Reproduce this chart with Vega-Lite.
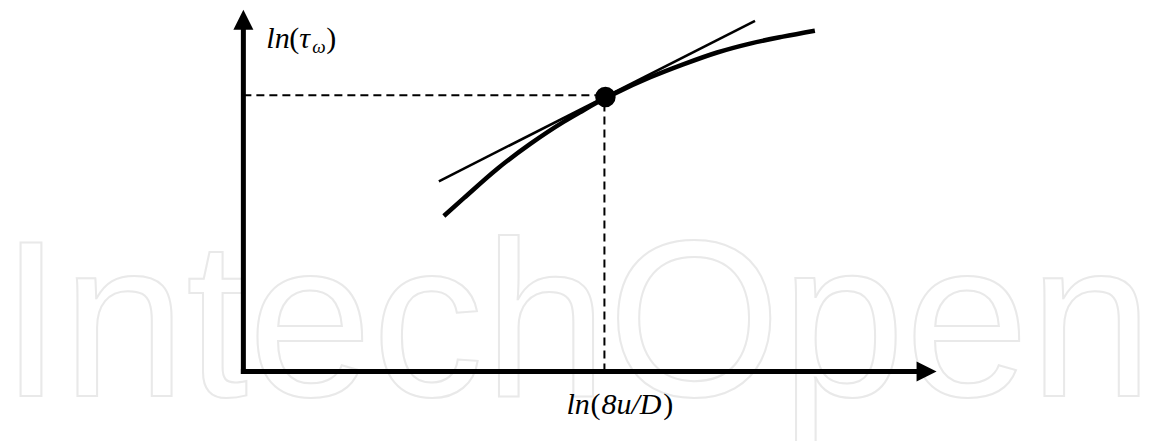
{
  "$schema": "https://vega.github.io/schema/vega-lite/v6.json",
  "width": 1151,
  "height": 441,
  "padding": 0,
  "autosize": {"type": "fit", "contains": "padding"},
  "background": "white",
  "config": {"view": {"stroke": null}},
  "datasets": {
    "watermark": [{"x": -244, "y": -25, "label": "IntechOpen"}],
    "axes": [
      {"x": -2.5, "y": 0, "x2": 676, "y2": 0},
      {"x": 0, "y": -2.5, "x2": 0, "y2": 346}
    ],
    "arrows": [
      {"x": 0, "y": 355, "dir": "up"},
      {"x": 685, "y": 0, "dir": "right"}
    ],
    "guides": [
      {"x": 0, "y": 279, "x2": 362, "y2": 279},
      {"x": 362, "y": 0, "x2": 362, "y2": 277}
    ],
    "tangent": [
      {"x": 196, "y": 192},
      {"x": 513, "y": 354}
    ],
    "curve": [
      {"x": 201, "y": 157},
      {"x": 221, "y": 175},
      {"x": 255, "y": 205},
      {"x": 288, "y": 230},
      {"x": 321, "y": 252},
      {"x": 338, "y": 262},
      {"x": 363, "y": 276},
      {"x": 371, "y": 280},
      {"x": 408, "y": 297},
      {"x": 441, "y": 310},
      {"x": 475, "y": 322},
      {"x": 508, "y": 331},
      {"x": 541, "y": 338},
      {"x": 573, "y": 344}
    ],
    "point": [{"x": 363, "y": 277}],
    "labels": [
      {"x": 23, "y": 327, "text": "ln", "kind": "italic"},
      {"x": 46, "y": 327, "text": "(", "kind": "upright"},
      {"x": 56, "y": 327, "text": "τ", "kind": "italic"},
      {"x": 69, "y": 322, "text": "ω", "kind": "sub"},
      {"x": 83, "y": 327, "text": ")", "kind": "upright"},
      {"x": 324, "y": -43, "text": "ln", "kind": "italic"},
      {"x": 348, "y": -43, "text": "(", "kind": "upright"},
      {"x": 359, "y": -43, "text": "8u/D", "kind": "italic"},
      {"x": 421, "y": -43, "text": ")", "kind": "upright"}
    ]
  },
  "encoding": {
    "x": {"field": "x", "type": "quantitative", "scale": {"domain": [-242, 909], "nice": false, "zero": false}, "axis": null},
    "y": {"field": "y", "type": "quantitative", "scale": {"domain": [-66, 375], "nice": false, "zero": false}, "axis": null}
  },
  "layer": [
    {
      "data": {"name": "watermark"},
      "mark": {"type": "text", "font": "Liberation Sans", "fontSize": 223, "align": "left", "baseline": "alphabetic", "fill": "transparent", "stroke": "#e9e9e9", "strokeWidth": 2},
      "encoding": {"text": {"field": "label"}}
    },
    {
      "data": {"name": "axes"},
      "mark": {"type": "rule", "color": "black", "strokeWidth": 5},
      "encoding": {"x2": {"field": "x2"}, "y2": {"field": "y2"}}
    },
    {
      "data": {"name": "arrows"},
      "transform": [{"filter": "datum.dir === 'up'"}],
      "mark": {"type": "point", "shape": "M0,-1L1,1L-1,1Z", "size": 400, "filled": true, "color": "black", "opacity": 1},
      "encoding": {}
    },
    {
      "data": {"name": "arrows"},
      "transform": [{"filter": "datum.dir === 'right'"}],
      "mark": {"type": "point", "shape": "M1,0L-1,-1L-1,1Z", "size": 400, "filled": true, "color": "black", "opacity": 1},
      "encoding": {}
    },
    {
      "data": {"name": "guides"},
      "mark": {"type": "rule", "color": "black", "strokeWidth": 2, "strokeDash": [8, 5]},
      "encoding": {"x2": {"field": "x2"}, "y2": {"field": "y2"}}
    },
    {
      "data": {"name": "tangent"},
      "mark": {"type": "line", "color": "black", "strokeWidth": 2.5, "strokeCap": "butt"},
      "encoding": {}
    },
    {
      "data": {"name": "curve"},
      "mark": {"type": "line", "color": "black", "strokeWidth": 4.5, "interpolate": "monotone", "strokeCap": "butt"},
      "encoding": {}
    },
    {
      "data": {"name": "point"},
      "mark": {"type": "point", "shape": "circle", "size": 420, "filled": true, "color": "black", "opacity": 1},
      "encoding": {}
    },
    {
      "data": {"name": "labels"},
      "transform": [{"filter": "datum.kind === 'italic'"}],
      "mark": {"type": "text", "font": "Liberation Serif", "fontSize": 30, "fontStyle": "italic", "align": "left", "baseline": "alphabetic", "color": "black"},
      "encoding": {"text": {"field": "text"}}
    },
    {
      "data": {"name": "labels"},
      "transform": [{"filter": "datum.kind === 'upright'"}],
      "mark": {"type": "text", "font": "Liberation Serif", "fontSize": 30, "align": "left", "baseline": "alphabetic", "color": "black"},
      "encoding": {"text": {"field": "text"}}
    },
    {
      "data": {"name": "labels"},
      "transform": [{"filter": "datum.kind === 'sub'"}],
      "mark": {"type": "text", "font": "Liberation Serif", "fontSize": 19, "fontStyle": "italic", "align": "left", "baseline": "alphabetic", "color": "black"},
      "encoding": {"text": {"field": "text"}}
    }
  ]
}
